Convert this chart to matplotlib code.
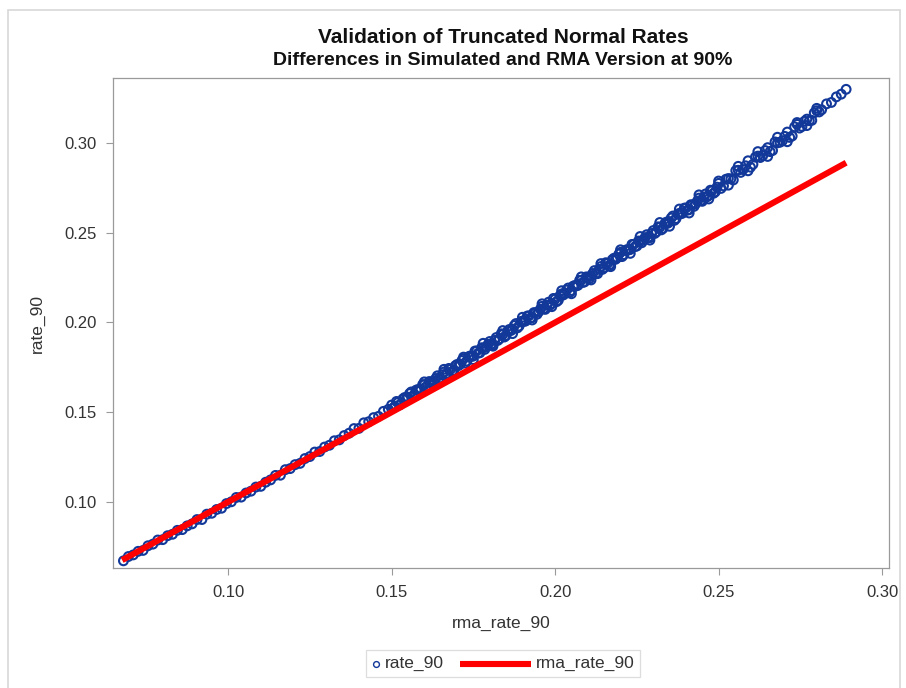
import matplotlib
matplotlib.use("Agg")
import matplotlib.pyplot as plt
from matplotlib.lines import Line2D
from matplotlib.patches import Rectangle

# Simulated 90% rates (rate_90) against the RMA version (rma_rate_90)
rma_rate_90 = [
    # lower range
    0.0680, 0.0695, 0.0710, 0.0725, 0.0740, 0.0755, 0.0770, 0.0785, 0.0800, 0.0815,
    0.0830, 0.0845, 0.0860, 0.0875, 0.0890, 0.0905, 0.0920, 0.0935, 0.0950, 0.0965,
    0.0980, 0.0995, 0.1010, 0.1025, 0.1040, 0.1055, 0.1070, 0.1085, 0.1100, 0.1115,
    0.1130, 0.1145, 0.1160, 0.1175, 0.1190, 0.1205, 0.1220, 0.1235, 0.1250, 0.1265,
    0.1280, 0.1295, 0.1310, 0.1325, 0.1340, 0.1355, 0.1370, 0.1385, 0.1400, 0.1415,
    0.1430, 0.1445, 0.1460, 0.1475, 0.1490,
    # middle range
    0.150, 0.151, 0.152, 0.153, 0.154, 0.155, 0.156, 0.157, 0.158, 0.159,
    0.160, 0.161, 0.162, 0.163, 0.164, 0.165, 0.166, 0.167, 0.168, 0.169,
    0.170, 0.171, 0.172, 0.173, 0.174, 0.175, 0.176, 0.177, 0.178, 0.179,
    0.180, 0.181, 0.182, 0.183, 0.184, 0.185, 0.186, 0.187, 0.188, 0.189,
    0.190, 0.191, 0.192, 0.193, 0.194, 0.195, 0.196, 0.197, 0.198, 0.199,
    0.200, 0.201, 0.202, 0.203, 0.204, 0.205, 0.206, 0.207, 0.208, 0.209,
    0.210, 0.211, 0.212, 0.213, 0.214, 0.215, 0.216, 0.217, 0.218, 0.219,
    0.220, 0.221, 0.222, 0.223, 0.224, 0.225, 0.226, 0.227, 0.228, 0.229,
    0.230, 0.231, 0.232, 0.233, 0.234, 0.235, 0.236, 0.237, 0.238, 0.239,
    0.240, 0.241, 0.242, 0.243, 0.244, 0.245, 0.246, 0.247, 0.248, 0.249,
    0.1505, 0.1515, 0.1525, 0.1535, 0.1545, 0.1555, 0.1565, 0.1575, 0.1585, 0.1595,
    0.1605, 0.1615, 0.1625, 0.1635, 0.1645, 0.1655, 0.1665, 0.1675, 0.1685, 0.1695,
    0.1705, 0.1715, 0.1725, 0.1735, 0.1745, 0.1755, 0.1765, 0.1775, 0.1785, 0.1795,
    0.1805, 0.1815, 0.1825, 0.1835, 0.1845, 0.1855, 0.1865, 0.1875, 0.1885, 0.1895,
    0.1905, 0.1915, 0.1925, 0.1935, 0.1945, 0.1955, 0.1965, 0.1975, 0.1985, 0.1995,
    0.2005, 0.2015, 0.2025, 0.2035, 0.2045, 0.2055, 0.2065, 0.2075, 0.2085, 0.2095,
    0.2105, 0.2115, 0.2125, 0.2135, 0.2145, 0.2155, 0.2165, 0.2175, 0.2185, 0.2195,
    0.2205, 0.2215, 0.2225, 0.2235, 0.2245, 0.2255, 0.2265, 0.2275, 0.2285, 0.2295,
    0.2305, 0.2315, 0.2325, 0.2335, 0.2345, 0.2355, 0.2365, 0.2375, 0.2385, 0.2395,
    0.2405, 0.2415, 0.2425, 0.2435, 0.2445, 0.2455, 0.2465, 0.2475, 0.2485, 0.2495,
    # upper range
    0.2500, 0.2515, 0.2530, 0.2545, 0.2560, 0.2575, 0.2590, 0.2605, 0.2620, 0.2635,
    0.2650, 0.2665, 0.2680, 0.2695, 0.2710, 0.2725, 0.2740, 0.2755, 0.2770, 0.2785,
    0.2800, 0.2815, 0.2830, 0.2845, 0.2860, 0.2875, 0.2890,
    0.25075, 0.25225, 0.25375, 0.25525, 0.25675, 0.25825, 0.25975, 0.26125,
    0.26275, 0.26425, 0.26575, 0.26725, 0.26875, 0.27025, 0.27175, 0.27325,
    0.27475, 0.27625, 0.27775, 0.27925, 0.28075,
    # points on the outer edges of the band
    0.160, 0.163, 0.166, 0.169, 0.172, 0.175, 0.178, 0.181, 0.184, 0.187,
    0.190, 0.193, 0.196, 0.199, 0.202, 0.205, 0.208, 0.211, 0.214, 0.217,
    0.220, 0.223, 0.226, 0.229, 0.232, 0.235, 0.238, 0.241, 0.244, 0.247,
    0.250, 0.253, 0.256, 0.259, 0.262, 0.265, 0.268, 0.271, 0.274, 0.277,
    0.280,
]

rate_90 = [
    # lower range
    0.0672, 0.0696, 0.0705, 0.0725, 0.0730, 0.0756, 0.0765, 0.0788, 0.0790, 0.0812,
    0.0820, 0.0842, 0.0846, 0.0867, 0.0878, 0.0902, 0.0902, 0.0932, 0.0937, 0.0958,
    0.0965, 0.0991, 0.1001, 0.1025, 0.1027, 0.1050, 0.1060, 0.1083, 0.1087, 0.1110,
    0.1123, 0.1148, 0.1149, 0.1180, 0.1186, 0.1208, 0.1215, 0.1242, 0.1253, 0.1278,
    0.1281, 0.1306, 0.1316, 0.1341, 0.1346, 0.1370, 0.1383, 0.1409, 0.1410, 0.1441,
    0.1447, 0.1470, 0.1477, 0.1505, 0.1516,
    # middle range
    0.1540, 0.1532, 0.1555, 0.1549, 0.1582, 0.1584, 0.1613, 0.1599, 0.1626, 0.1626,
    0.1653, 0.1643, 0.1668, 0.1674, 0.1703, 0.1685, 0.1724, 0.1716, 0.1739, 0.1733,
    0.1766, 0.1768, 0.1798, 0.1785, 0.1813, 0.1813, 0.1841, 0.1831, 0.1858, 0.1864,
    0.1894, 0.1876, 0.1916, 0.1909, 0.1933, 0.1927, 0.1961, 0.1963, 0.1994, 0.1980,
    0.2008, 0.2008, 0.2037, 0.2027, 0.2054, 0.2060, 0.2090, 0.2073, 0.2113, 0.2106,
    0.2130, 0.2124, 0.2159, 0.2161, 0.2192, 0.2178, 0.2206, 0.2207, 0.2235, 0.2226,
    0.2252, 0.2259, 0.2289, 0.2272, 0.2312, 0.2305, 0.2329, 0.2324, 0.2358, 0.2361,
    0.2391, 0.2378, 0.2406, 0.2407, 0.2435, 0.2426, 0.2452, 0.2459, 0.2489, 0.2472,
    0.2512, 0.2505, 0.2530, 0.2524, 0.2559, 0.2562, 0.2593, 0.2579, 0.2608, 0.2609,
    0.2638, 0.2628, 0.2655, 0.2662, 0.2693, 0.2675, 0.2716, 0.2709, 0.2734, 0.2728,
    0.1524, 0.1560, 0.1541, 0.1575, 0.1576, 0.1604, 0.1589, 0.1623, 0.1624, 0.1654,
    0.1641, 0.1671, 0.1660, 0.1688, 0.1689, 0.1709, 0.1708, 0.1744, 0.1725, 0.1759,
    0.1760, 0.1788, 0.1774, 0.1809, 0.1811, 0.1841, 0.1829, 0.1859, 0.1850, 0.1878,
    0.1880, 0.1900, 0.1900, 0.1937, 0.1919, 0.1953, 0.1955, 0.1983, 0.1970, 0.2004,
    0.2006, 0.2036, 0.2025, 0.2055, 0.2046, 0.2074, 0.2076, 0.2097, 0.2097, 0.2134,
    0.2116, 0.2150, 0.2153, 0.2181, 0.2168, 0.2202, 0.2204, 0.2235, 0.2223, 0.2254,
    0.2244, 0.2273, 0.2275, 0.2296, 0.2296, 0.2333, 0.2315, 0.2350, 0.2352, 0.2381,
    0.2367, 0.2402, 0.2404, 0.2435, 0.2423, 0.2454, 0.2444, 0.2473, 0.2475, 0.2496,
    0.2496, 0.2533, 0.2516, 0.2550, 0.2553, 0.2582, 0.2569, 0.2603, 0.2606, 0.2637,
    0.2626, 0.2656, 0.2647, 0.2676, 0.2679, 0.2699, 0.2700, 0.2737, 0.2720, 0.2754,
    # upper range
    0.2775, 0.2761, 0.2802, 0.2794, 0.2848, 0.2852, 0.2901, 0.2881, 0.2927, 0.2929,
    0.2974, 0.2958, 0.3001, 0.3012, 0.3061, 0.3039, 0.3104, 0.3092, 0.3133, 0.3126,
    0.3180, 0.3185, 0.3218, 0.3226, 0.3257, 0.3272, 0.3299,
    0.2747, 0.2798, 0.2800, 0.2846, 0.2836, 0.2873, 0.2865, 0.2921,
    0.2919, 0.2958, 0.2952, 0.3006, 0.3004, 0.3037, 0.3031, 0.3090,
    0.3083, 0.3121, 0.3124, 0.3168, 0.3173,
    # points on the outer edges of the band
    0.1669, 0.1654, 0.1739, 0.1724, 0.1807, 0.1793, 0.1884, 0.1868, 0.1955, 0.1938,
    0.2029, 0.2014, 0.2104, 0.2088, 0.2177, 0.2160, 0.2254, 0.2237, 0.2328, 0.2311,
    0.2405, 0.2385, 0.2479, 0.2459, 0.2557, 0.2536, 0.2632, 0.2610, 0.2711, 0.2688,
    0.2788, 0.2765, 0.2870, 0.2845, 0.2952, 0.2925, 0.3032, 0.3007, 0.3114, 0.3097,
    0.3193,
]

# RMA reference line (rma_rate_90 plotted against itself)
rma_line = [0.0676, 0.2890]

x_ticks = [0.10, 0.15, 0.20, 0.25, 0.30]
y_ticks = [0.10, 0.15, 0.20, 0.25, 0.30]
x_ticklabels = ["0.10", "0.15", "0.20", "0.25", "0.30"]
y_ticklabels = ["0.10", "0.15", "0.20", "0.25", "0.30"]

plt.rcParams["font.family"] = ["Liberation Sans", "DejaVu Sans"]

BLUE = "#12389a"
RED = "#ff0000"
GRAY = "#9a9a9a"
TEXT = "#333333"

W, H = 906, 688
fig = plt.figure(figsize=(W / 100, H / 100), dpi=100)
ax = fig.add_axes([0.1247, 0.1744, 0.8565, 0.7122])

ax.scatter(rma_rate_90, rate_90, s=40, facecolors="none", edgecolors=BLUE,
           linewidths=1.5, zorder=2)
ax.plot(rma_line, rma_line, color=RED, linewidth=4.4, solid_capstyle="butt",
        zorder=3)

ax.set_xlim(0.0648, 0.3021)
ax.set_ylim(0.0632, 0.3362)
ax.set_xticks(x_ticks)
ax.set_xticklabels(x_ticklabels)
ax.set_yticks(y_ticks)
ax.set_yticklabels(y_ticklabels)
ax.tick_params(axis="both", direction="out", length=5, width=0.8, color=GRAY,
               labelsize=12, labelcolor=TEXT, pad=7)
for sp in ax.spines.values():
    sp.set_color(GRAY)
    sp.set_linewidth(0.9)

ax.set_xlabel("rma_rate_90", fontsize=12.5, color=TEXT, labelpad=12)
ax.set_ylabel("rate_90", fontsize=12.5, color=TEXT, labelpad=14)

fig.text(0.555, 0.946, "Validation of Truncated Normal Rates", ha="center",
         va="center", fontsize=15, fontweight="bold", color="#111111")
fig.text(0.555, 0.912, "Differences in Simulated and RMA Version at 90%",
         ha="center", va="center", fontsize=14, fontweight="bold",
         color="#111111")


def fx(px):
    return px / W


def fy(py):
    return 1 - py / H


# legend strip below the x-axis label
fig.patches.append(Rectangle((fx(366), fy(677)), fx(640) - fx(366),
                             fy(650) - fy(677), transform=fig.transFigure,
                             fill=True, facecolor="white", edgecolor="#dddddd",
                             linewidth=0.9))
ly = fy(663.5)
fig.lines.append(Line2D([fx(376)], [ly], transform=fig.transFigure,
                        linestyle="none", marker="o", markersize=4.2,
                        markerfacecolor="none", markeredgecolor=BLUE,
                        markeredgewidth=1.0))
fig.text(fx(385), ly, "rate_90", ha="left", va="center", fontsize=12.5,
         color=TEXT)
fig.lines.append(Line2D([fx(460), fx(531)], [ly, ly], transform=fig.transFigure,
                        color=RED, linewidth=4.4, solid_capstyle="butt"))
fig.text(fx(536), ly, "rma_rate_90", ha="left", va="center", fontsize=12.5,
         color=TEXT)

# outer graph border
fig.patches.append(Rectangle((0.009, -0.01), 0.984, 0.995,
                             transform=fig.transFigure, fill=False,
                             edgecolor="#d8d8d8", linewidth=1.2))

fig.savefig("out.png", dpi=100)
